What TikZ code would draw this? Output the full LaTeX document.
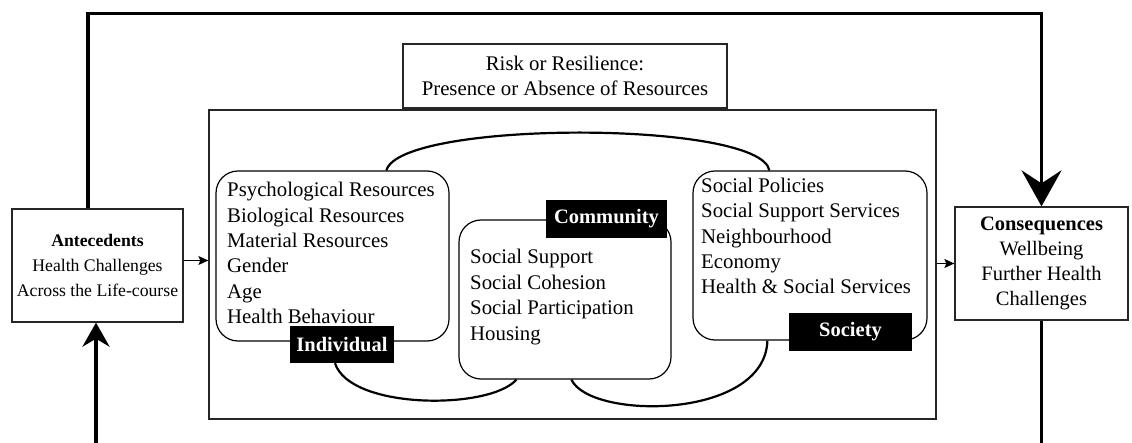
\documentclass[tikz,border=0pt]{standalone}
\usepackage{fontspec}
\setmainfont{Liberation Serif}
\usetikzlibrary{arrows.meta,calc}
\begin{document}
\begin{tikzpicture}[x=1pt,y=-1pt,
  box/.style={draw=black!85,line width=1.3pt,fill=white,rectangle,inner sep=0pt},
  rbox/.style={draw=black,line width=1.2pt,fill=white,rounded corners=22pt,inner sep=0pt},
  tag/.style={fill=black,text=white,font=\fontsize{20.5}{24}\selectfont\bfseries,inner sep=0pt},
  list/.style={align=left,inner sep=0pt,anchor=west,font=\fontsize{20.8}{25.4}\selectfont},
  loopline/.style={line width=2.2pt},
  fb/.style={line width=3.6pt,line join=miter},
  small/.style={line width=1pt,-{Stealth[length=10pt,width=9pt,inset=2pt]}},
  ]
\useasboundingbox (0,0) rectangle (1132,443);

% outer frame and title box
\node[box,minimum width=727pt,minimum height=309pt] (frame) at (572.5,264.5) {};
\node[box,minimum width=324pt,minimum height=64pt,align=center,
      font=\fontsize{20.8}{25.4}\selectfont] (risk) at (565,76)
  {Risk or Resilience:\\Presence or Absence of Resources};

% antecedents / consequences
\node[box,minimum width=171pt,minimum height=113pt,align=center,
      font=\fontsize{17.7}{25}\selectfont] (ante) at (97.5,265.5)
  {\textbf{Antecedents}\\Health Challenges\\Across the Life-course};
\node[box,minimum width=173pt,minimum height=113pt,align=center,
      font=\fontsize{20.5}{25}\selectfont] (cons) at (1041.5,263.5)
  {\textbf{Consequences}\\Wellbeing\\Further Health\\Challenges};

% rounded boxes
\node[rbox,minimum width=233pt,minimum height=170pt] (indiv) at (332.5,256) {};
\node[rbox,minimum width=212pt,minimum height=159pt] (comm) at (565,299.5) {};
\node[rbox,minimum width=234pt,minimum height=169pt] (soc) at (810,255.5) {};

% labels
\node[tag,minimum width=104pt,minimum height=37pt] (indlab) at (342,344.5) {Individual};
\node[tag,minimum width=121pt,minimum height=38pt] (comlab) at (606.5,219) {Community};
\node[tag,minimum width=123pt,minimum height=38pt] (soclab) at (850.5,332) {Society};

% loops joining the levels
\draw[loopline] ($(indiv.north west)+(171,0)$) .. controls (400,120) and (760,120) .. ($(soc.north west)+(77,0)$);
\draw[loopline] ($(indlab.south)+(-7,0)$) .. controls (350,410) and (490,410) .. ($(comm.south west)+(58,0)$);
\draw[loopline] ($(comm.south west)+(113,0)$) .. controls (590,420) and (765,420) .. ($(soc.south west)+(75,0)$);

% list texts
\node[list] (indtxt) at (227,253)
  {Psychological Resources\\Biological Resources\\Material Resources\\Gender\\Age\\Health Behaviour};
\node[list] (comtxt) at (470,297)
  {Social Support\\Social Cohesion\\Social Participation\\Housing};
\node[list] (soctxt) at (701,236)
  {Social Policies\\Social Support Services\\Neighbourhood\\Economy\\Health \& Social Services};

% small arrows
\draw[small] ([yshift=5pt]ante.east) -- ([yshift=5pt]ante.east -| frame.west);
\draw[small] (frame.east |- cons.west) -- (cons.west);

% feedback loop
\draw[fb,-{Stealth[length=36pt,width=40pt,inset=13pt]}]
  ([xshift=-9.5pt]ante.north) -- ++(0,-195) -| (cons.north);
\coordinate (bl) at (96,443);
\draw[fb,-{Stealth[length=24pt,width=27pt,inset=8pt]}] (bl) -- (bl |- ante.south);
\draw[fb] (cons.south) -- (cons.south |- bl);
\end{tikzpicture}
\end{document}
